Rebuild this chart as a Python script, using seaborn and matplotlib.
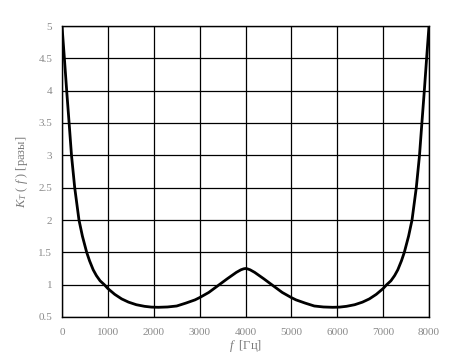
"Frequency response K_T(f) plot."
import matplotlib
matplotlib.use("Agg")
import matplotlib.pyplot as plt
import seaborn as sns
import pandas as pd

# values (curve is symmetric about 4000 Hz)
freq_hz = [0, 52, 102, 155, 207, 277, 370, 445, 538, 600, 680, 750, 830, 922,
           1000, 1150, 1300, 1450, 1620, 1800, 1950, 2100, 2300, 2500, 2700,
           2900, 3000, 3200, 3400, 3600, 3800, 3900, 3960, 4000,
           4040, 4100, 4200, 4400, 4600, 4800, 5000, 5100, 5300, 5500, 5700,
           5900, 6050, 6200, 6380, 6550, 6700, 6850, 7000, 7078, 7170, 7250,
           7320, 7400, 7462, 7555, 7630, 7723, 7793, 7845, 7898, 7948, 8000]
k_t = [5.0, 4.5, 4.0, 3.5, 3.0, 2.5, 2.0, 1.75, 1.5, 1.37, 1.23, 1.14, 1.06,
       1.0, 0.94, 0.85, 0.78, 0.73, 0.69, 0.665, 0.653, 0.65, 0.655, 0.67,
       0.715, 0.765, 0.80, 0.88, 0.985, 1.09, 1.19, 1.23, 1.245, 1.25,
       1.245, 1.23, 1.19, 1.09, 0.985, 0.88, 0.80, 0.765, 0.715, 0.67, 0.655,
       0.65, 0.653, 0.665, 0.69, 0.73, 0.78, 0.85, 0.94, 1.0, 1.06, 1.14,
       1.23, 1.37, 1.5, 1.75, 2.0, 2.5, 3.0, 3.5, 4.0, 4.5, 5.0]

x_ticks = [0, 1000, 2000, 3000, 4000, 5000, 6000, 7000, 8000]
y_ticks = [0.5, 1, 1.5, 2, 2.5, 3, 3.5, 4, 4.5, 5]
y_ticklabels = ["0.5", "1", "1.5", "2", "2.5", "3", "3.5", "4", "4.5", "5"]

sns.set_theme(style="white")
plt.rcParams["font.family"] = ["Liberation Serif", "DejaVu Serif"]
plt.rcParams["mathtext.fontset"] = "custom"
plt.rcParams["mathtext.rm"] = "Liberation Serif"
plt.rcParams["mathtext.it"] = "Liberation Serif:italic"

df = pd.DataFrame({"f": freq_hz, "k": k_t})

fig = plt.figure(figsize=(4.73, 3.56), dpi=100)
ax = fig.add_axes([62 / 473, 1 - 317 / 356, 367 / 473, 291 / 356])

sns.lineplot(data=df, x="f", y="k", ax=ax, color="black", linewidth=2.0,
             sort=False, zorder=3, solid_joinstyle="round")

ax.set_xlim(0, 8000)
ax.set_ylim(0.5, 5)
ax.set_xticks(x_ticks)
ax.set_xticklabels([str(t) for t in x_ticks])
ax.set_yticks(y_ticks)
ax.set_yticklabels(y_ticklabels)
ax.grid(True, color="black", linewidth=0.9)
for sp in ax.spines.values():
    sp.set_color("black")
    sp.set_linewidth(1.0)
ax.tick_params(axis="both", length=0, labelsize=8, labelcolor="#8a8a8a")
ax.tick_params(axis="x", pad=8)
ax.tick_params(axis="y", pad=7)

ax.set_xlabel(r"$f$  [Гц]", fontsize=9, color="#7a7a7a", labelpad=1)
ax.set_ylabel(r"$K_T$ ( $f$ ) [разы]", fontsize=9, color="#7a7a7a", labelpad=6)

fig.savefig("out.png", dpi=100)
